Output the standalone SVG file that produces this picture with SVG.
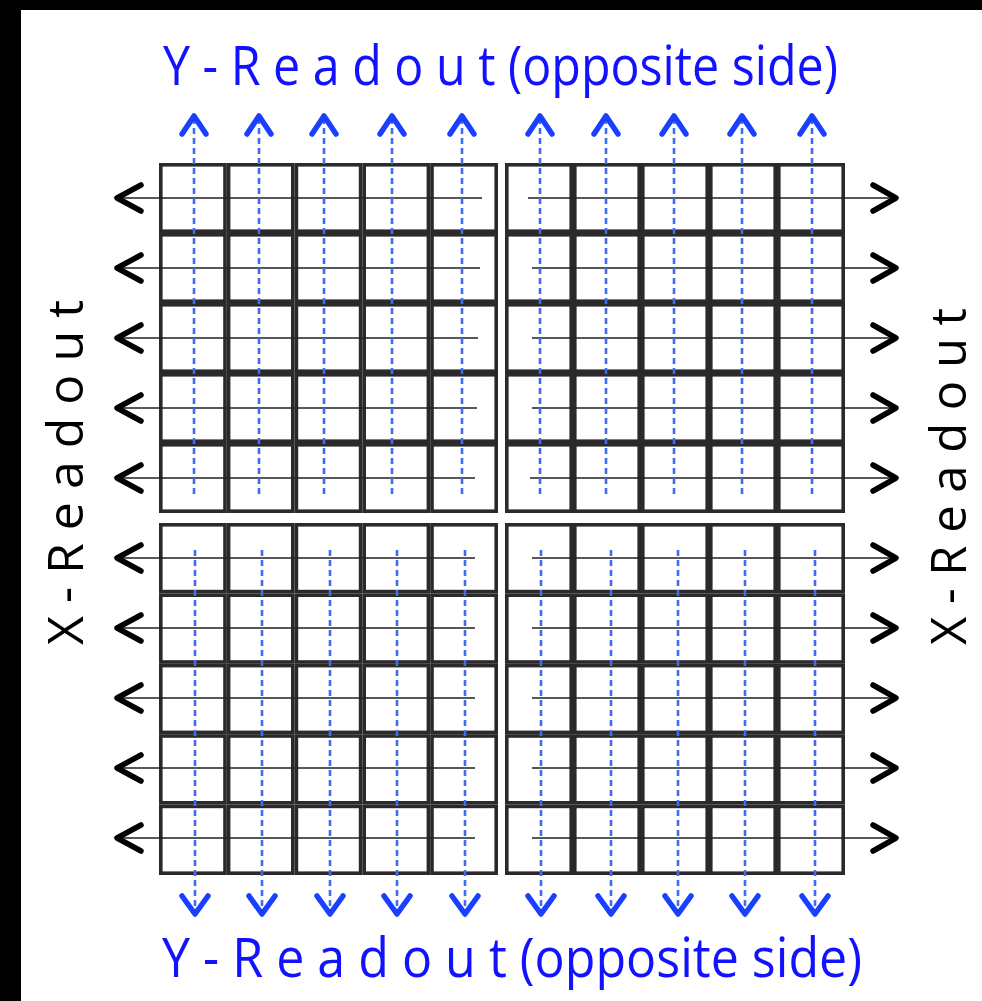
<svg xmlns="http://www.w3.org/2000/svg" width="982" height="1001" viewBox="0 0 982 1001">
<style>
.cell{fill:#fff;stroke:#2a2a2a;stroke-width:3.6}
.hl{stroke:#222;stroke-width:1.6;fill:none}
.ah{stroke:#000;stroke-width:5.5;fill:none;stroke-linecap:round;stroke-linejoin:round}
.vl{stroke:#3d6df2;stroke-width:2.6;stroke-dasharray:6 4;fill:none}
.bh{stroke:#1a40ff;stroke-width:5.5;fill:none;stroke-linecap:round;stroke-linejoin:round}
.lbl{font-family:"Open Sans","Liberation Sans",sans-serif;fill:#1212ff;font-size:54px}
.side{font-family:"Open Sans","Liberation Sans",sans-serif;fill:#000;font-size:50px}
</style>
<rect x="0" y="0" width="982" height="1001" fill="#fff"/>
<rect x="0" y="0" width="982" height="10" fill="#000"/>
<rect x="0" y="0" width="21" height="1001" fill="#000"/>
<g id="cells">
<g id="block-tl">
<rect class="cell" x="160.8" y="164.8" width="64.2" height="66.4"/>
<rect class="cell" x="228.6" y="164.8" width="64.2" height="66.4"/>
<rect class="cell" x="296.4" y="164.8" width="64.2" height="66.4"/>
<rect class="cell" x="364.2" y="164.8" width="64.2" height="66.4"/>
<rect class="cell" x="432" y="164.8" width="64.2" height="66.4"/>
<rect class="cell" x="160.8" y="234.8" width="64.2" height="66.4"/>
<rect class="cell" x="228.6" y="234.8" width="64.2" height="66.4"/>
<rect class="cell" x="296.4" y="234.8" width="64.2" height="66.4"/>
<rect class="cell" x="364.2" y="234.8" width="64.2" height="66.4"/>
<rect class="cell" x="432" y="234.8" width="64.2" height="66.4"/>
<rect class="cell" x="160.8" y="304.8" width="64.2" height="66.4"/>
<rect class="cell" x="228.6" y="304.8" width="64.2" height="66.4"/>
<rect class="cell" x="296.4" y="304.8" width="64.2" height="66.4"/>
<rect class="cell" x="364.2" y="304.8" width="64.2" height="66.4"/>
<rect class="cell" x="432" y="304.8" width="64.2" height="66.4"/>
<rect class="cell" x="160.8" y="374.8" width="64.2" height="66.4"/>
<rect class="cell" x="228.6" y="374.8" width="64.2" height="66.4"/>
<rect class="cell" x="296.4" y="374.8" width="64.2" height="66.4"/>
<rect class="cell" x="364.2" y="374.8" width="64.2" height="66.4"/>
<rect class="cell" x="432" y="374.8" width="64.2" height="66.4"/>
<rect class="cell" x="160.8" y="444.8" width="64.2" height="66.4"/>
<rect class="cell" x="228.6" y="444.8" width="64.2" height="66.4"/>
<rect class="cell" x="296.4" y="444.8" width="64.2" height="66.4"/>
<rect class="cell" x="364.2" y="444.8" width="64.2" height="66.4"/>
<rect class="cell" x="432" y="444.8" width="64.2" height="66.4"/>
</g>
<g id="block-tr">
<rect class="cell" x="506.8" y="164.8" width="64.4" height="66.4"/>
<rect class="cell" x="574.8" y="164.8" width="64.4" height="66.4"/>
<rect class="cell" x="642.8" y="164.8" width="64.4" height="66.4"/>
<rect class="cell" x="710.8" y="164.8" width="64.4" height="66.4"/>
<rect class="cell" x="778.8" y="164.8" width="64.4" height="66.4"/>
<rect class="cell" x="506.8" y="234.8" width="64.4" height="66.4"/>
<rect class="cell" x="574.8" y="234.8" width="64.4" height="66.4"/>
<rect class="cell" x="642.8" y="234.8" width="64.4" height="66.4"/>
<rect class="cell" x="710.8" y="234.8" width="64.4" height="66.4"/>
<rect class="cell" x="778.8" y="234.8" width="64.4" height="66.4"/>
<rect class="cell" x="506.8" y="304.8" width="64.4" height="66.4"/>
<rect class="cell" x="574.8" y="304.8" width="64.4" height="66.4"/>
<rect class="cell" x="642.8" y="304.8" width="64.4" height="66.4"/>
<rect class="cell" x="710.8" y="304.8" width="64.4" height="66.4"/>
<rect class="cell" x="778.8" y="304.8" width="64.4" height="66.4"/>
<rect class="cell" x="506.8" y="374.8" width="64.4" height="66.4"/>
<rect class="cell" x="574.8" y="374.8" width="64.4" height="66.4"/>
<rect class="cell" x="642.8" y="374.8" width="64.4" height="66.4"/>
<rect class="cell" x="710.8" y="374.8" width="64.4" height="66.4"/>
<rect class="cell" x="778.8" y="374.8" width="64.4" height="66.4"/>
<rect class="cell" x="506.8" y="444.8" width="64.4" height="66.4"/>
<rect class="cell" x="574.8" y="444.8" width="64.4" height="66.4"/>
<rect class="cell" x="642.8" y="444.8" width="64.4" height="66.4"/>
<rect class="cell" x="710.8" y="444.8" width="64.4" height="66.4"/>
<rect class="cell" x="778.8" y="444.8" width="64.4" height="66.4"/>
</g>
<g id="block-bl">
<rect class="cell" x="160.8" y="524.8" width="64.2" height="66.8"/>
<rect class="cell" x="228.6" y="524.8" width="64.2" height="66.8"/>
<rect class="cell" x="296.4" y="524.8" width="64.2" height="66.8"/>
<rect class="cell" x="364.2" y="524.8" width="64.2" height="66.8"/>
<rect class="cell" x="432" y="524.8" width="64.2" height="66.8"/>
<rect class="cell" x="160.8" y="595.2" width="64.2" height="66.8"/>
<rect class="cell" x="228.6" y="595.2" width="64.2" height="66.8"/>
<rect class="cell" x="296.4" y="595.2" width="64.2" height="66.8"/>
<rect class="cell" x="364.2" y="595.2" width="64.2" height="66.8"/>
<rect class="cell" x="432" y="595.2" width="64.2" height="66.8"/>
<rect class="cell" x="160.8" y="665.6" width="64.2" height="66.8"/>
<rect class="cell" x="228.6" y="665.6" width="64.2" height="66.8"/>
<rect class="cell" x="296.4" y="665.6" width="64.2" height="66.8"/>
<rect class="cell" x="364.2" y="665.6" width="64.2" height="66.8"/>
<rect class="cell" x="432" y="665.6" width="64.2" height="66.8"/>
<rect class="cell" x="160.8" y="736" width="64.2" height="66.8"/>
<rect class="cell" x="228.6" y="736" width="64.2" height="66.8"/>
<rect class="cell" x="296.4" y="736" width="64.2" height="66.8"/>
<rect class="cell" x="364.2" y="736" width="64.2" height="66.8"/>
<rect class="cell" x="432" y="736" width="64.2" height="66.8"/>
<rect class="cell" x="160.8" y="806.4" width="64.2" height="66.8"/>
<rect class="cell" x="228.6" y="806.4" width="64.2" height="66.8"/>
<rect class="cell" x="296.4" y="806.4" width="64.2" height="66.8"/>
<rect class="cell" x="364.2" y="806.4" width="64.2" height="66.8"/>
<rect class="cell" x="432" y="806.4" width="64.2" height="66.8"/>
</g>
<g id="block-br">
<rect class="cell" x="506.8" y="524.8" width="64.4" height="66.8"/>
<rect class="cell" x="574.8" y="524.8" width="64.4" height="66.8"/>
<rect class="cell" x="642.8" y="524.8" width="64.4" height="66.8"/>
<rect class="cell" x="710.8" y="524.8" width="64.4" height="66.8"/>
<rect class="cell" x="778.8" y="524.8" width="64.4" height="66.8"/>
<rect class="cell" x="506.8" y="595.2" width="64.4" height="66.8"/>
<rect class="cell" x="574.8" y="595.2" width="64.4" height="66.8"/>
<rect class="cell" x="642.8" y="595.2" width="64.4" height="66.8"/>
<rect class="cell" x="710.8" y="595.2" width="64.4" height="66.8"/>
<rect class="cell" x="778.8" y="595.2" width="64.4" height="66.8"/>
<rect class="cell" x="506.8" y="665.6" width="64.4" height="66.8"/>
<rect class="cell" x="574.8" y="665.6" width="64.4" height="66.8"/>
<rect class="cell" x="642.8" y="665.6" width="64.4" height="66.8"/>
<rect class="cell" x="710.8" y="665.6" width="64.4" height="66.8"/>
<rect class="cell" x="778.8" y="665.6" width="64.4" height="66.8"/>
<rect class="cell" x="506.8" y="736" width="64.4" height="66.8"/>
<rect class="cell" x="574.8" y="736" width="64.4" height="66.8"/>
<rect class="cell" x="642.8" y="736" width="64.4" height="66.8"/>
<rect class="cell" x="710.8" y="736" width="64.4" height="66.8"/>
<rect class="cell" x="778.8" y="736" width="64.4" height="66.8"/>
<rect class="cell" x="506.8" y="806.4" width="64.4" height="66.8"/>
<rect class="cell" x="574.8" y="806.4" width="64.4" height="66.8"/>
<rect class="cell" x="642.8" y="806.4" width="64.4" height="66.8"/>
<rect class="cell" x="710.8" y="806.4" width="64.4" height="66.8"/>
<rect class="cell" x="778.8" y="806.4" width="64.4" height="66.8"/>
</g>
</g>
<g id="connectors">
<g id="x-left">
<path class="hl" d="M116 198H482M116 268H480M116 338H478M116 408H477M116 478H475M116 558H475M116 628H475M116 698H475M116 768H475M116 838H475"/>
<path class="ah" d="M141 185L117 198L141 211M141 255L117 268L141 281M141 325L117 338L141 351M141 395L117 408L141 421M141 465L117 478L141 491M141 545L117 558L141 571M141 615L117 628L141 641M141 685L117 698L141 711M141 755L117 768L141 781M141 825L117 838L141 851"/>
</g>
<g id="x-right">
<path class="hl" d="M528 198H894M532 268H894M532 338H894M532 408H894M530 478H894M532 558H894M532 628H894M532 698H894M532 768H894M532 838H894"/>
<path class="ah" d="M873 185L896 198L873 211M873 255L896 268L873 281M873 325L896 338L873 351M873 395L896 408L873 421M873 465L896 478L873 491M873 545L896 558L873 571M873 615L896 628L873 641M873 685L896 698L873 711M873 755L896 768L873 781M873 825L896 838L873 851"/>
</g>
<g id="y-top">
<path class="vl" d="M194 118V497M259 118V497M324 118V497M392 118V497M462 118V497M540 118V497M606 118V497M674 118V497M742 118V497M812 118V497"/>
<path class="bh" d="M182 134L194 116L206 134M247 134L259 116L271 134M312 134L324 116L336 134M380 134L392 116L404 134M450 134L462 116L474 134M528 134L540 116L552 134M594 134L606 116L618 134M662 134L674 116L686 134M730 134L742 116L754 134M800 134L812 116L824 134"/>
</g>
<g id="y-bottom">
<path class="vl" d="M195 550V912M262 550V912M330 550V912M397 550V912M465 550V912M541 550V912M611 550V912M678 550V912M745 550V912M815 550V912"/>
<path class="bh" d="M182 896L195 914L208 896M249 896L262 914L275 896M317 896L330 914L343 896M384 896L397 914L410 896M452 896L465 914L478 896M528 896L541 914L554 896M598 896L611 914L624 896M665 896L678 914L691 896M732 896L745 914L758 896M802 896L815 914L828 896"/>
</g>
</g>
<g id="labels">
<text id="y-top-label" class="lbl" x="163" y="85" textLength="675" lengthAdjust="spacingAndGlyphs">Y - R e a d o u t (opposite side)</text>
<text id="y-bottom-label" class="lbl" x="162" y="977" textLength="700" lengthAdjust="spacingAndGlyphs">Y - R e a d o u t (opposite side)</text>
<text id="x-left-label" class="side" transform="translate(83,645) rotate(-90)" x="0" y="0" textLength="345" lengthAdjust="spacingAndGlyphs">X - R e a d o u t</text>
<text id="x-right-label" class="side" transform="translate(966,645) rotate(-90)" x="0" y="0" textLength="337" lengthAdjust="spacingAndGlyphs">X - R e a d o u t</text>
</g>
</svg>
